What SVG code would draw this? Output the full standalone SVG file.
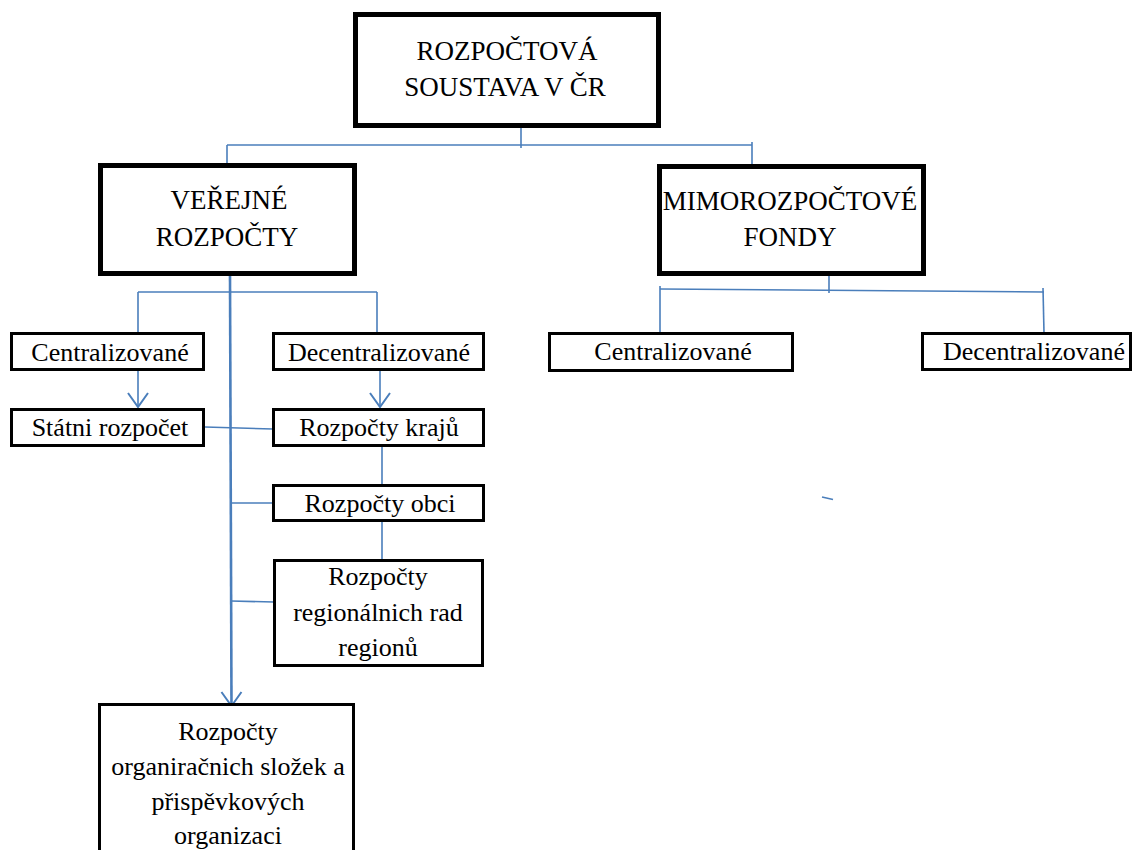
<svg xmlns="http://www.w3.org/2000/svg" width="1135" height="850" viewBox="0 0 1135 850">
<style>
  .thick { fill: #ffffff; stroke: #000000; stroke-width: 5; }
  .thin { fill: #ffffff; stroke: #000000; stroke-width: 3; }
  .big { font-family: "Liberation Serif", "Times New Roman", serif; font-size: 27px; fill: #000000; text-anchor: middle; }
  .lbl { font-family: "Liberation Serif", "Times New Roman", serif; font-size: 26px; fill: #000000; text-anchor: middle; }
  .conn { fill: none; stroke: #4a7ebb; stroke-width: 1.6; }
  .main { fill: none; stroke: #4a7ebb; stroke-width: 2.6; }
</style>
<defs>
  <marker id="open" markerUnits="userSpaceOnUse" markerWidth="30" markerHeight="30" orient="auto" overflow="visible">
    <path d="M -14,-10 L 0,0 L -14,10" fill="none" stroke="#4a7ebb" stroke-width="2"/>
  </marker>
</defs>
<rect width="1135" height="850" fill="#ffffff"/>

<g id="connectors">
  <line class="conn" x1="521" y1="128" x2="521" y2="148"/>
  <line class="conn" x1="227" y1="145" x2="752" y2="145"/>
  <line class="conn" x1="227" y1="145" x2="227" y2="166"/>
  <line class="conn" x1="752" y1="142" x2="752" y2="166"/>

  <line class="main" x1="230" y1="276" x2="231.5" y2="706" marker-end="url(#open)"/>
  <line class="conn" x1="138" y1="292" x2="377" y2="292"/>
  <line class="conn" x1="138" y1="292" x2="138" y2="333"/>
  <line class="conn" x1="377" y1="292" x2="377" y2="333"/>

  <line class="conn" x1="138" y1="371" x2="138" y2="407" marker-end="url(#open)"/>
  <line class="conn" x1="380" y1="371" x2="380" y2="407" marker-end="url(#open)"/>

  <line class="conn" x1="205" y1="427" x2="273" y2="429"/>
  <line class="conn" x1="382" y1="447" x2="382" y2="485"/>
  <line class="conn" x1="231" y1="503" x2="273" y2="503"/>
  <line class="conn" x1="382" y1="522" x2="382" y2="560"/>
  <line class="conn" x1="231" y1="601" x2="274" y2="602"/>

  <line class="conn" x1="829" y1="276" x2="829" y2="293"/>
  <line class="conn" x1="660" y1="289" x2="1044" y2="292"/>
  <line class="conn" x1="660" y1="286" x2="660" y2="333"/>
  <line class="conn" x1="1043" y1="288" x2="1044" y2="333"/>

  <line class="conn" x1="822" y1="497" x2="833" y2="499.5"/>
</g>

<g id="rozpoctova-soustava">
  <rect class="thick" x="355.5" y="14.5" width="303" height="111"/>
  <text class="big" x="507" y="60">ROZPOČTOVÁ</text>
  <text class="big" x="505" y="96">SOUSTAVA V ČR</text>
</g>

<g id="verejne-rozpocty">
  <rect class="thick" x="100.5" y="165.5" width="254" height="108"/>
  <text class="big" x="229" y="209">VEŘEJNÉ</text>
  <text class="big" x="227" y="246">ROZPOČTY</text>
</g>

<g id="mimorozpoctove-fondy">
  <rect class="thick" x="659.5" y="166.5" width="264" height="107"/>
  <text class="big" x="790" y="210">MIMOROZPOČTOVÉ</text>
  <text class="big" x="790" y="246">FONDY</text>
</g>

<g id="centralizovane-vr">
  <rect class="thin" x="11.5" y="333.5" width="192" height="36"/>
  <text class="lbl" x="110" y="361">Centralizované</text>
</g>

<g id="decentralizovane-vr">
  <rect class="thin" x="273.5" y="333.5" width="210" height="36"/>
  <text class="lbl" x="379" y="361">Decentralizované</text>
</g>

<g id="statni-rozpocet">
  <rect class="thin" x="11.5" y="409.5" width="192" height="36"/>
  <text class="lbl" x="110" y="436">Státni rozpočet</text>
</g>

<g id="rozpocty-kraju">
  <rect class="thin" x="273.5" y="409.5" width="210" height="36"/>
  <text class="lbl" x="379" y="436">Rozpočty krajů</text>
</g>

<g id="rozpocty-obci">
  <rect class="thin" x="273.5" y="485.5" width="210" height="35"/>
  <text class="lbl" x="380" y="512">Rozpočty obci</text>
</g>

<g id="rozpocty-regionalnich-rad">
  <rect class="thin" x="274.5" y="560.5" width="208" height="105"/>
  <text class="lbl" x="378" y="585">Rozpočty</text>
  <text class="lbl" x="378" y="621">regionálnich rad</text>
  <text class="lbl" x="378" y="656">regionů</text>
</g>

<g id="rozpocty-organizacnich-slozek">
  <rect class="thin" x="99.5" y="704.5" width="254" height="160"/>
  <text class="lbl" x="228" y="740">Rozpočty</text>
  <text class="lbl" x="228" y="775">organiračnich složek a</text>
  <text class="lbl" x="228" y="810">přispěvkových</text>
  <text class="lbl" x="228" y="844">organizaci</text>
</g>

<g id="centralizovane-mf">
  <rect class="thin" x="549.5" y="333.5" width="243" height="37"/>
  <text class="lbl" x="673" y="360">Centralizované</text>
</g>

<g id="decentralizovane-mf">
  <rect class="thin" x="922.5" y="333.5" width="208" height="36"/>
  <text class="lbl" x="1034" y="360">Decentralizované</text>
</g>
</svg>
